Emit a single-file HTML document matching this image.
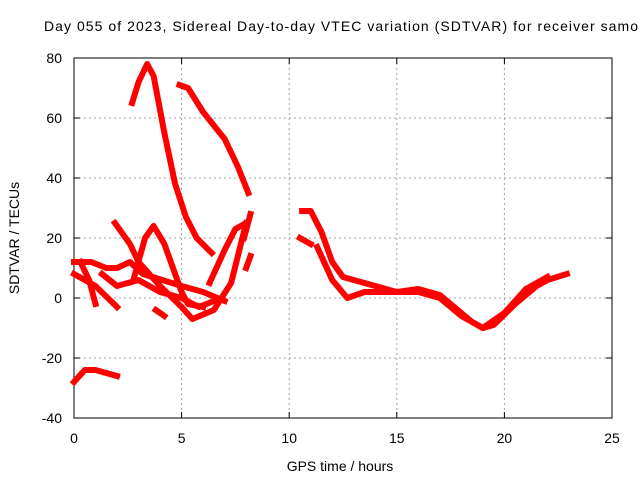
<!DOCTYPE html>
<html><head><meta charset="utf-8"><style>
body{margin:0;background:#fff;width:640px;height:480px;overflow:hidden}
svg text{font-family:"Liberation Sans",sans-serif;font-size:14px;fill:#000}
</style></head><body>
<svg width="640" height="480">
<text x="44" y="31" textLength="594" lengthAdjust="spacing">Day 055 of 2023, Sidereal Day-to-day VTEC variation (SDTVAR) for receiver samo</text>
<g id="grid"></g>
<g id="axes"></g>
<g id="series"></g>
<text x="340" y="471" text-anchor="middle">GPS time / hours</text>
<text transform="translate(19,238) rotate(-90)" text-anchor="middle">SDTVAR / TECUs</text>
</svg>
<script>
const xTicks=[0,5,10,15,20,25];
const yTicks=[-40,-20,0,20,40,60,80];
const s1=[[2.7,65],[3.0,72],[3.4,78],[3.7,74],[4.2,55],[4.7,38],[5.2,27],[5.7,20],[6.4,15]];
const s2=[[4.9,71],[5.3,70],[6,62],[7,53],[7.6,44],[8.1,35]];
const s3=[[6.3,5],[7,16],[7.5,23],[8,25]];
const s4=[[1.9,25],[2.6,18],[3,12],[4,4],[5,-3],[5.5,-7],[6.5,-4],[7.3,5],[8,25]];
const s5=[[2.8,7],[3.3,20],[3.7,24],[4.2,18],[5,2],[5.3,-2],[6,-3]];
const s6=[[0,12],[0.8,12],[1.5,10],[2,10],[2.6,12],[3.2,8],[5,4],[6,2],[7,-1]];
const s7=[[1.3,8],[2,4],[3,6],[4,2],[5,0],[5.8,-3],[6.5,-1]];
const s8=[[0,8],[1,4],[2,-3]];
const s9=[[0.3,12],[0.7,6],[1,-2]];
const s10=[[3.8,-4],[4.2,-6]];
const s11=[[0,-28],[0.5,-24],[1,-24],[2,-26]];
const s12=[[10.5,20],[11,18]];
const s13=[[10.6,29],[11,29],[11.5,22],[12,12],[12.5,7],[13,6],[14,4],[15,2],[16,2],[17,0],[18,-6],[19,-10],[19.5,-9],[20.5,-2],[21.5,4],[22,6],[22.9,8]];
const s14=[[11.3,17],[12,6],[12.7,0],[13.5,2],[15,2],[16,3],[17,1],[18.5,-8],[19,-10],[20,-5],[21,3],[22,7]];
const s15=[[8.0,10],[8.2,14]];
const s16=[[7.9,20],[8.2,28]];
const series=[s1,s2,s3,s4,s5,s6,s7,s8,s9,s10,s11,s12,s13,s14,s15,s16];
const X=v=>74+v*(612-74)/25, Y=v=>298-v*3;
const NS="http://www.w3.org/2000/svg";
function mk(t,a,p){const e=document.createElementNS(NS,t);for(const k in a)e.setAttribute(k,a[k]);p.appendChild(e);return e;}
const grid=document.getElementById('grid'),axes=document.getElementById('axes'),ser=document.getElementById('series');
xTicks.forEach(t=>{
 if(t>0&&t<25){const l=mk('line',{x1:X(t),x2:X(t),y1:58,y2:418,stroke:'#a0a0a0','stroke-dasharray':'2,3'},grid);
 
 }
 const tk=mk('text',{x:X(t),y:443,'text-anchor':'middle'},axes);tk.textContent=t;
 
 
 mk('line',{x1:X(t),x2:X(t),y1:418,y2:412,stroke:'#000'},axes);
 mk('line',{x1:X(t),x2:X(t),y1:58,y2:64,stroke:'#000'},axes);
});
yTicks.forEach(t=>{
 if(t>-40&&t<80){const l=mk('line',{x1:74,x2:612,y1:Y(t),y2:Y(t),stroke:'#a0a0a0','stroke-dasharray':'2,3'},grid);
 
 }
 const tk=mk('text',{x:62,y:Y(t)+5,'text-anchor':'end'},axes);tk.textContent=t;
 
 
 mk('line',{x1:74,x2:80,y1:Y(t),y2:Y(t),stroke:'#000'},axes);
 mk('line',{x1:612,x2:606,y1:Y(t),y2:Y(t),stroke:'#000'},axes);
});
mk('rect',{x:74,y:58,width:538,height:360,fill:'none',stroke:'#000'},axes);
series.forEach(s=>{
 const p=mk('polyline',{points:s.map(d=>X(d[0])+','+Y(d[1])).join(' '),fill:'none',stroke:'#ff0000','stroke-width':6,'stroke-linejoin':'round','stroke-linecap':'square'},ser);
 
 
});
</script>
</body></html>
